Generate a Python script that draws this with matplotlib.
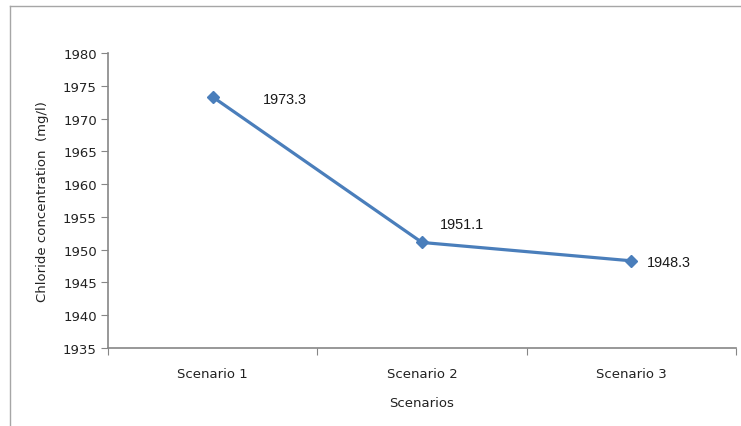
import matplotlib
matplotlib.use("Agg")
import matplotlib.pyplot as plt
from matplotlib.lines import Line2D

categories = ["Scenario 1", "Scenario 2", "Scenario 3"]
values = [1973.3, 1951.1, 1948.3]
labels = ["1973.3", "1951.1", "1948.3"]
yticks = [1935, 1940, 1945, 1950, 1955, 1960, 1965, 1970, 1975, 1980]

W, H = 741, 427
fig = plt.figure(figsize=(W / 100, H / 100), dpi=100)
ax = fig.add_axes([108 / W, 1 - 349 / H, (736 - 108) / W, (349 - 54) / H])

xs = [i + 0.5 for i in range(len(categories))]
ax.plot(xs, values, color="#4a7ebb", lw=2.3, marker="D", ms=6.5, zorder=3)

offsets = [(36.5, -1.5), (13, 13), (11.5, -0.8)]
for x, v, lab, (dx, dy) in zip(xs, values, labels, offsets):
    ax.annotate(lab, (x, v), xytext=(dx, dy), textcoords="offset points",
                ha="left", va="center", fontsize=10.4, family="Liberation Sans", color="#1a1a1a")

ax.set_xlim(0, len(categories))
ax.set_ylim(1935, 1980)
ax.set_yticks(yticks)
ax.set_xticks(range(len(categories) + 1))
ax.set_xticklabels([])
ax.set_xticks(xs, minor=True)
ax.set_xticklabels(categories, minor=True)
ax.tick_params(axis="x", which="minor", length=0, pad=14, labelsize=9.5, labelcolor="#222222")
ax.tick_params(axis="x", which="major", length=5, direction="out", color="#868686")
ax.tick_params(axis="y", length=5, direction="out", color="#868686", labelsize=9.5, labelcolor="#222222", pad=3)
for lab in ax.get_xticklabels(minor=True) + ax.get_yticklabels():
    lab.set_family("DejaVu Sans")

for s in ["top", "right"]:
    ax.spines[s].set_visible(False)
for s in ["left", "bottom"]:
    ax.spines[s].set_color("#868686")
    ax.spines[s].set_linewidth(1.2)

ax.set_xlabel("Scenarios", fontsize=9.5, color="#222222", labelpad=11)
ax.set_ylabel("Chloride concentration  (mg/l)", fontsize=9.5, color="#222222", labelpad=10)

fig.add_artist(Line2D([10 / W, 10 / W], [0, 1 - 7 / H], transform=fig.transFigure, color="#a6a6a6", lw=1))
fig.add_artist(Line2D([10 / W, 1], [1 - 7 / H, 1 - 7 / H], transform=fig.transFigure, color="#a6a6a6", lw=1))

fig.savefig("out.png", dpi=100)
